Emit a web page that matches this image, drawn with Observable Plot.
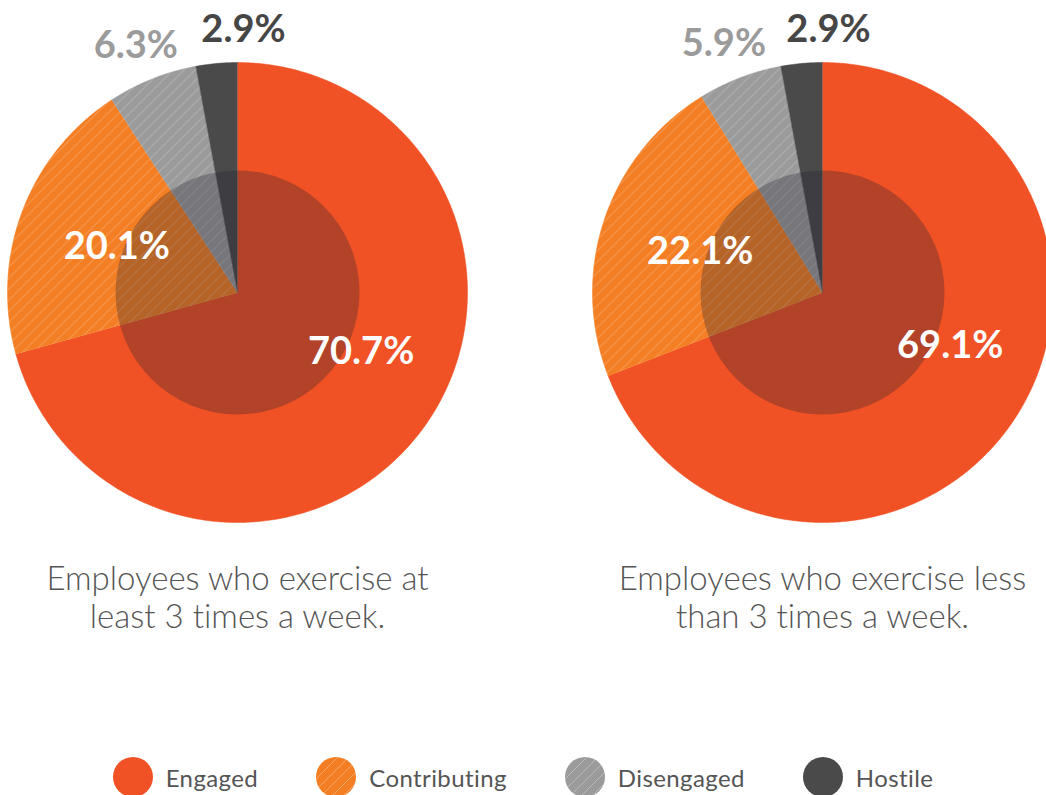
<!DOCTYPE html>
<html>
<head>
<meta charset="utf-8">
<script src="https://cdn.jsdelivr.net/npm/d3@7"></script>
<script src="https://cdn.jsdelivr.net/npm/@observablehq/plot@0.6"></script>
<style>
  html, body { margin: 0; padding: 0; background: #fff; overflow: hidden; }
  #chart svg { display: block; }
  #chart text, #legend { font-variant-ligatures: none; font-feature-settings: "liga" 0; }
  #legend { display: flex; justify-content: center; align-items: center; gap: 58px; margin-top: 107px;
            font-family: Lato, "Open Sans", sans-serif; font-size: 24px; letter-spacing: 0.4px; color: #555; }
  #legend .item { display: flex; align-items: center; }
  #legend svg { margin-right: 13px; display: block; }
</style>
</head>
<body>
<svg width="0" height="0" style="position:absolute">
  <defs>
    <pattern id="hatch" patternUnits="userSpaceOnUse" width="11" height="11">
      <path d="M0,11 L11,0 M-1,1 L1,-1 M10,12 L12,10" stroke="#ffffff" stroke-opacity="0.3" stroke-width="1"/>
    </pattern>
  </defs>
</svg>
<div id="chart"></div>
<div id="legend"></div>
<script>
// ---- data ----
const categories = ["Engaged", "Contributing", "Disengaged", "Hostile"];
const groupCaptions = [
  "Employees who exercise at\nleast 3 times a week.",
  "Employees who exercise less\nthan 3 times a week."
];
const atLeast3 = [70.7, 20.1, 6.3, 2.9];
const lessThan3 = [69.1, 22.1, 5.9, 2.9];
const groupValues = [atLeast3, lessThan3];

// ---- styles / layout ----
const colors = {Engaged: "#F05125", Contributing: "#F47E23", Disengaged: "#9B9B9B", Hostile: "#4A4A4A"};
const hatched = new Set(["Contributing", "Disengaged"]);
const labelStyle = {
  Engaged:      {r: 139, dx: 13, dy: -25, fill: "#ffffff"},
  Contributing: {r: 129, dx: 0,  dy: 0,   fill: "#ffffff"},
  Disengaged:   {r: 266, dx: -3, dy: 0,   fill: "#9B9B9B"},
  Hostile:      {r: 264, dx: 30, dy: 0,   fill: "#464646"}
};
const W = 1046, H = 650;
const centersX = [237, 822];
const centerY = 292;
const R = 230, innerR = 122;

// ---- derived geometry (from the data via d3.pie) ----
const pie = d3.pie().sort(null).value(d => d);
const slicePts = [];
const labels = [];
const centers = [];
groupValues.forEach((vals, gi) => {
  const cx = centersX[gi];
  centers.push({x: cx, y: centerY, group: gi});
  pie(vals).forEach((a, i) => {
    const cat = categories[i];
    const key = gi + "|" + cat;
    slicePts.push({key, cat, x: cx, y: centerY});
    const n = Math.max(2, Math.ceil((a.endAngle - a.startAngle) / (Math.PI / 360)));
    for (let k = 0; k <= n; k++) {
      const t = a.startAngle + (a.endAngle - a.startAngle) * k / n;
      slicePts.push({key, cat, x: cx + R * Math.sin(t), y: centerY - R * Math.cos(t)});
    }
    const mid = (a.startAngle + a.endAngle) / 2;
    const ls = labelStyle[cat];
    labels.push({
      cat,
      text: vals[i].toFixed(1) + "%",
      x: cx + ls.r * Math.sin(mid) + ls.dx,
      y: centerY - ls.r * Math.cos(mid) + ls.dy,
      fill: ls.fill
    });
  });
});
const captions = groupCaptions.map((t, gi) => ({text: t, x: centersX[gi], y: 563}));

const chart = Plot.plot({
  width: W, height: H,
  margin: 0,
  x: {domain: [0, W], range: [0, W], axis: null},
  y: {domain: [0, H], range: [0, H], axis: null},
  color: {type: "identity"},
  style: {background: "#fff", fontFamily: "Lato, sans-serif"},
  marks: [
    Plot.line(slicePts, {x: "x", y: "y", z: "key", fill: d => colors[d.cat], stroke: d => colors[d.cat], strokeWidth: 0.5, curve: "linear"}),
    Plot.line(slicePts.filter(d => hatched.has(d.cat)), {x: "x", y: "y", z: "key", fill: "url(#hatch)", stroke: "none", curve: "linear"}),
    Plot.dot(centers, {x: "x", y: "y", r: innerR, fill: "#262633", fillOpacity: 0.3, stroke: "none"}),
    Plot.text(labels, {x: "x", y: "y", text: "text", fill: "fill", fontSize: 38, fontWeight: 700, fontFamily: "Lato, sans-serif"}),
    Plot.text(captions, {x: "x", y: "y", text: "text", lineAnchor: "top", lineHeight: 1.15, fontSize: 33, fontWeight: 300, fill: "#555", fontFamily: "Lato, sans-serif"})
  ]
});
document.getElementById("chart").appendChild(chart);

// ---- legend ----
const legend = document.getElementById("legend");
categories.forEach(cat => {
  const item = document.createElement("div");
  item.className = "item";
  item.innerHTML = `<svg width="40" height="40"><circle cx="20" cy="20" r="20" fill="${colors[cat]}"/>` +
    (hatched.has(cat) ? `<circle cx="20" cy="20" r="20" fill="url(#hatch)"/>` : "") +
    `</svg><span>${cat}</span>`;
  legend.appendChild(item);
});
</script>
</body>
</html>
